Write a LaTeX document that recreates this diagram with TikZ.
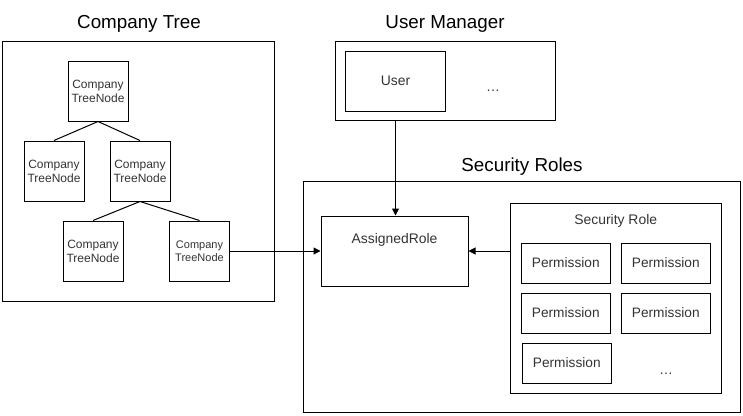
\documentclass[tikz,border=0pt]{standalone}
\usepackage{fontspec}
\setmainfont{Liberation Sans}
\usetikzlibrary{arrows.meta}
\tikzset{
    box/.style={draw, line width=1pt, inner sep=0pt, align=center, text=black!80},
    treenode/.style={box, minimum width=60pt, minimum height=60pt, font=\fontsize{12}{14}\selectfont},
    perm/.style={box, minimum width=89pt, minimum height=40pt, font=\fontsize{13.7}{16}\selectfont},
    title/.style={font=\fontsize{18.8}{22}\selectfont},
    label/.style={text=black!80, font=\fontsize{13.9}{16}\selectfont},
    link/.style={line width=1pt, -{Triangle[length=7pt, width=7pt]}},
}
\begin{document}
\begin{tikzpicture}[x=1pt, y=-1pt]
    \useasboundingbox (0,0) rectangle (743,415);
    % company tree
    \node[title] (treetitle) at (139,24) {Company Tree};
    \node[box, minimum width=272pt, minimum height=260pt] (tree) at (138,171) {};
    \node[treenode] (ctop) at (98,91) {Company\\TreeNode};
    \node[treenode] (cleft) at (54,171) {Company\\TreeNode};
    \node[treenode] (cmid) at (140,171) {Company\\TreeNode};
    \node[treenode] (cbl) at (93,251) {Company\\TreeNode};
    \node[treenode, font=\fontsize{11}{13}\selectfont] (cbr) at (199.5,251) {Company\\TreeNode};
    \draw[line width=1pt]
        (ctop.south) -- (cleft.north)
        (ctop.south) -- (cmid.north)
        (cmid.south) -- (cbl.north)
        (cmid.south) -- (cbr.north);
    % user manager
    \node[title] (usertitle) at (445,24) {User Manager};
    \node[box, minimum width=220pt, minimum height=79pt] (users) at (445,80.5) {};
    \node[box, minimum width=100pt, minimum height=60pt, font=\fontsize{13.9}{16}\selectfont] (user) at (395.5,81) {User};
    \node[label] (userdots) at (493,91) {\dots};
    % security roles
    \node[title] (roletitle) at (522,167) {Security Roles};
    \node[box, minimum width=437pt, minimum height=231pt] (roles) at (521.5,296.5) {};
    \node[box, minimum width=147pt, minimum height=70pt] (assigned) at (394.5,251) {};
    \node[label] (assignedtext) at (394.5,240) {AssignedRole};
    \node[box, minimum width=210.5pt, minimum height=190pt] (role) at (615.75,298) {};
    \node[label] (roletext) at (615.75,221) {Security Role};
    \node[perm] (p1) at (565.75,263) {Permission};
    \node[perm] (p2) at (665.75,263) {Permission};
    \node[perm] (p3) at (565.75,313) {Permission};
    \node[perm] (p4) at (665.75,313) {Permission};
    \node[perm] (p5) at (566.75,363) {Permission};
    \node[label] (permdots) at (666,374) {\dots};
    % links
    \draw[link] (users.south -| user.south) -- (assigned.north -| user.south);
    \draw[link] (cbr.east) -- (assigned.west);
    \draw[link] (role.west |- assigned.east) -- (assigned.east);
\end{tikzpicture}
\end{document}
